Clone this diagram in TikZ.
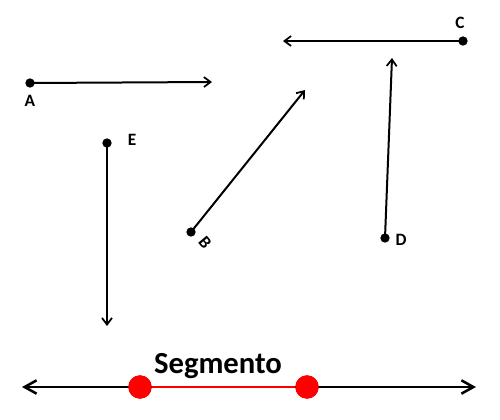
\documentclass[tikz,border=0pt]{standalone}
\usepackage{fontspec}
\setmainfont{Carlito}
\usetikzlibrary{arrows.meta}

\begin{document}
\begin{tikzpicture}
[x=0.75pt,y=-0.75pt,
  lineDecorate/.style={line width=1.5pt,-{Straight Barb[length=5pt,width=7.5pt,line width=1.3pt]}},%
  pointDecorate/.style={shape=circle,fill=black,inner sep=0pt,minimum size=7pt},
  labelDecorate/.style={font=\fontsize{13}{15}\selectfont\bfseries},
  endDecorate/.style={shape=circle,fill=red,inner sep=0pt,minimum size=17.5pt}]
\useasboundingbox (0,0) rectangle (500,419);
%% points and arrow ends
\foreach \nodename/\x/\y/\endname/\ex/\ey in {
  A/30/83/a/212/82, C/463/41/c/283/41, E/107/143/e/107/326,
  B/191/232/b/305/90, D/385/238/d/392/58}
{
  \node (\nodename) at (\x,\y) [pointDecorate] {};
  \coordinate (\endname) at (\ex,\ey);
}
%% point labels
\node [labelDecorate] at (30,101) {A};
\node [labelDecorate] at (460,23) {C};
\node [labelDecorate] at (132,140) {E};
\node [labelDecorate,rotate=-50] at (205,243) {B};
\node [labelDecorate] at (401,240) {D};
%% half lines
\foreach \startnode/\endnode in {A/a, C/c, E/e, B/b, D/d}
{
  \draw[lineDecorate] (\startnode.center) -- (\endnode);
}
%% the line with the segment
\coordinate (left) at (22,387);
\coordinate (right) at (476,387);
\node (P) at (140,387) [endDecorate] {};
\node (Q) at (307,387) [endDecorate] {};
\draw[line width=2.2pt,{Straight Barb[length=9pt,width=10pt,line width=1.9pt]}-{Straight Barb[length=9pt,width=10pt,line width=1.9pt]}] (left) -- (right);
\draw[red,line width=2pt] (P) -- (Q);
\node [endDecorate] at (P) {};
\node [endDecorate] at (Q) {};
\node [anchor=base,font=\fontsize{23}{26}\selectfont\bfseries] (seg) at (218,373) {Segmento};
\end{tikzpicture}
\end{document}
